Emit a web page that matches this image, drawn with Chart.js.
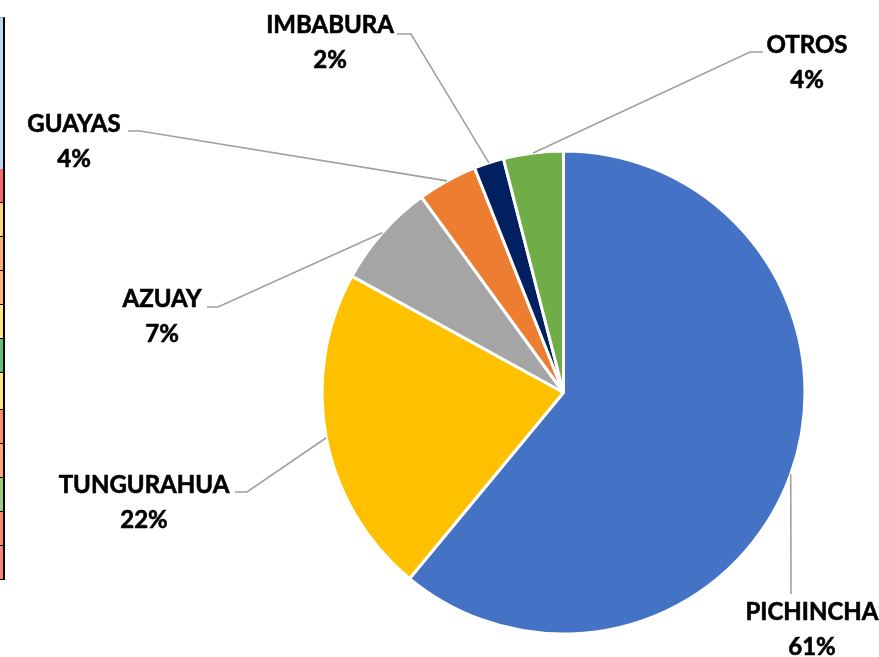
<!DOCTYPE html>
<html>
<head>
<meta charset="utf-8">
<script src="https://cdn.jsdelivr.net/npm/chart.js@4.4.0/dist/chart.umd.min.js"></script>
<style>
  html, body { margin: 0; padding: 0; background: #fff; }
  #wrap { position: relative; width: 879px; height: 657px; overflow: hidden; }
  #strip { position: absolute; left: 0; top: 0; }
  .cell { position: absolute; left: 0; width: 3px; border-right: 2px solid #000; border-bottom: 1px solid #000; }
</style>
</head>
<body>
<div id="wrap">
  <canvas id="myChart" width="879" height="657"></canvas>
  <div id="strip"></div>
</div>
<script>
// datos
const provincias = ['PICHINCHA', 'TUNGURAHUA', 'AZUAY', 'GUAYAS', 'IMBABURA', 'OTROS'];
const porcentajes = [61, 22, 7, 4, 2, 4];
const colores = ['#4472C4', '#FFC000', '#A5A5A5', '#ED7D31', '#002060', '#70AD47'];

// trozo de tabla cortada en el borde izquierdo
const filasColor = ['#BDD7EE', '#F8696B', '#FFD27F', '#FDB07A', '#FDB37B', '#FFE783', '#63BE7B',
                    '#FFE884', '#FA8E72', '#FCA577', '#9CCB7D', '#F98A71', '#F98670'];
const filasAlto = [152, 34, 34, 34, 34, 34, 34, 37, 34, 34, 34, 34, 34];

let filaY = 17;
const strip = document.getElementById('strip');
filasColor.forEach((c, i) => {
    const d = document.createElement('div');
    d.className = 'cell';
    d.style.top = filaY + 'px';
    d.style.height = (filasAlto[i] - 1) + 'px';
    d.style.background = c;
    if (i === 0) d.style.borderTop = '1px solid #9a9a9a';
    strip.appendChild(d);
    filaY += filasAlto[i];
});

// donde van las etiquetas (texto centrado, linea base, codo y final de la guia)
const etiquetas = [
    { x: 812, base: 620, codo: null, fin: [791, 594] },
    { x: 144, base: 493, codo: [247, 492], fin: [235, 492] },
    { x: 162, base: 307, codo: [218, 307], fin: [207, 307] },
    { x: 74,  base: 132, codo: [140, 131], fin: [128, 131] },
    { x: 330, base: 33,  codo: [411, 34],  fin: [397, 34] },
    { x: 807, base: 53,  codo: [750, 52],  fin: [763, 52] }
];

const labelsPlugin = {
    id: 'labelsPlugin',
    afterDraw(chart) {
        const ctx = chart.ctx;
        const arcs = chart.getDatasetMeta(0).data;
        ctx.save();
        arcs.forEach((arc, i) => {
            const p = arc.getProps(['x', 'y', 'startAngle', 'endAngle', 'outerRadius'], true);
            const mid = (p.startAngle + p.endAngle) / 2;
            const ax = p.x + Math.cos(mid) * p.outerRadius;
            const ay = p.y + Math.sin(mid) * p.outerRadius;
            const e = etiquetas[i];

            ctx.strokeStyle = '#A0A0A0';
            ctx.lineWidth = 1.6;
            ctx.beginPath();
            ctx.moveTo(ax, ay);
            if (e.codo) ctx.lineTo(e.codo[0], e.codo[1]);
            ctx.lineTo(e.fin[0], e.fin[1]);
            ctx.stroke();

            ctx.fillStyle = '#000';
            ctx.strokeStyle = '#000';
            ctx.lineWidth = 0.6;
            ctx.font = 'bold 24px Lato';
            ctx.textAlign = 'center';
            ctx.textBaseline = 'alphabetic';
            ctx.fillText(provincias[i], e.x, e.base);
            ctx.strokeText(provincias[i], e.x, e.base);
            ctx.fillText(porcentajes[i] + '%', e.x, e.base + 35);
            ctx.strokeText(porcentajes[i] + '%', e.x, e.base + 35);
        });
        ctx.restore();
    }
};

const ctx = document.getElementById('myChart').getContext('2d');
new Chart(ctx, {
    type: 'pie',
    data: {
        labels: provincias,
        datasets: [{
            data: porcentajes,
            backgroundColor: colores,
            borderColor: '#FFFFFF',
            borderWidth: 3
        }]
    },
    options: {
        responsive: false,
        animation: false,
        layout: {
            padding: { left: 320.5, right: 72.5, top: 149.5, bottom: 21.5 }
        },
        plugins: {
            legend: { display: false },
            tooltip: { enabled: false }
        }
    },
    plugins: [labelsPlugin]
});
</script>
</body>
</html>
